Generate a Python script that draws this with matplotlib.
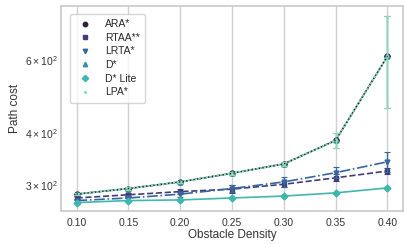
import matplotlib
matplotlib.use("Agg")
import matplotlib.pyplot as plt
import seaborn as sns
from matplotlib.lines import Line2D

sns.set_theme(style="whitegrid")
plt.rcParams['font.family'] = ['Liberation Sans', 'DejaVu Sans']

density = [0.10, 0.15, 0.20, 0.25, 0.30, 0.35, 0.40]
algorithms = ["ARA*", "RTAA**", "LRTA*", "D*", "D* Lite", "LPA*"]

ara = [285, 294, 305, 320, 337, 384, 612]
rtaa = [279, 284, 289, 293, 301, 312, 324]
lrta = [275, 279, 285, 294, 305, 321, 341]
dstar = [285, 294, 305, 320, 337, 384, 612]
dlite = [272, 275, 276, 279, 282, 287, 295]
lpa = [285, 294, 305, 320, 337, 384, 612]

ara_err = [0, 0, 0, 0, 0, 0, 0]
rtaa_err = [3, 3, 4, 6, 5, 6, 6]
lrta_err = [3, 3, 4, 6, 9, 10, 18]
dstar_err = [2, 2, 2, 3, 4, 16, 152]
dlite_err = [1, 1, 1, 1, 1, 1, 1]
lpa_err = [2, 2, 2, 3, 4, 16, 152]

values = [ara, rtaa, lrta, dstar, dlite, lpa]
errors = [ara_err, rtaa_err, lrta_err, dstar_err, dlite_err, lpa_err]
markers = ["o", "s", "v", "^", "D", "."]
styles = [":", "--", "-.", (0, (3, 1, 1, 1, 1, 1)), "-", "-"]
colors = sns.color_palette("mako", 6)
order = [0, 3, 1, 2, 4, 5]

fig = plt.figure(figsize=(4.04, 2.44), dpi=100)
ax = fig.add_axes([61 / 404, (244 - 210.7) / 244, (403 - 61) / 404, (210.7 - 5.7) / 244])

for k, i in enumerate(order):
    ax.errorbar(density, values[i], yerr=errors[i], color=colors[i], marker=markers[i],
                linestyle=styles[i], linewidth=1.2,
                markersize=3.5 if markers[i] != "." else 3,
                capsize=2, elinewidth=1.0, capthick=0.8, zorder=3 + k)
# dotted ARA* line visible on top of the overlapping curves
ax.plot(density, ara, color=colors[0], linestyle=":", linewidth=1.0, zorder=20)

ax.set_yscale("log")
ax.set_ylim(260, 810)
ax.set_xticks(density)
ax.set_xticklabels([f"{d:.2f}" for d in density])
ax.tick_params(axis="both", which="both", labelsize=7.5, colors="#333333", length=0)
ax.tick_params(axis="y", which="both", pad=2)
ax.tick_params(axis="x", which="both", pad=5)
ax.set_xlabel("Obstacle Density", fontsize=8.5, labelpad=1, color="#333333")
ax.set_ylabel("Path cost", fontsize=8.5, labelpad=3, color="#333333")
ax.grid(axis="x", color="#d0d0d0", linewidth=1.0)
ax.grid(axis="y", which="both", visible=False)

handles = [Line2D([], [], color=colors[i], marker=markers[i], linestyle="none",
                  markersize=3.2 if markers[i] != "." else 2.5) for i in range(6)]
ax.legend(handles, algorithms, loc="upper left", fontsize=7.5, frameon=True,
          handlelength=2.0, handletextpad=0.9, borderpad=0.5, labelspacing=0.35,
          bbox_to_anchor=(0.01, 0.985))

fig.savefig("out.png", dpi=100)
